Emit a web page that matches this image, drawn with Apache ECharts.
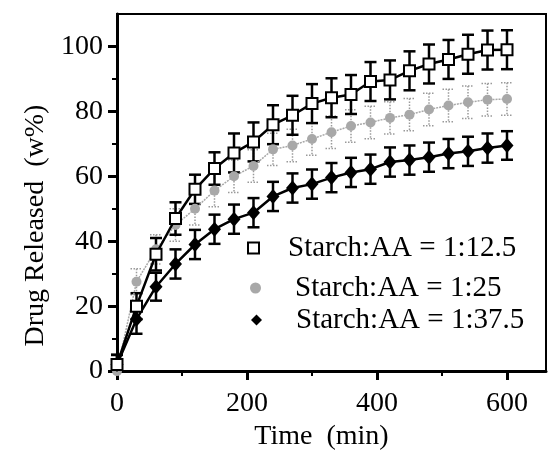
<!DOCTYPE html>
<html>
<head>
<meta charset="utf-8">
<script src="https://cdn.jsdelivr.net/npm/echarts@6/dist/echarts.min.js"></script>
<style>html,body{margin:0;padding:0;background:#fff}#c{width:549px;height:456px}</style>
</head>
<body>
<div id="c"></div>
<script>
// ---- data ----
var times = [0,30,60,90,120,150,180,210,240,270,300,330,360,390,420,450,480,510,540,570,600];
var s1 = [2,20,36,47,56,62.4,67.2,70.6,75.9,78.8,82.4,84.2,85.2,89.2,89.7,92.5,94.6,96,97.6,98.9,99];
var e1 = [3,4,5,5,4.5,5,6,6,6,6,6,6,6,6,6,6,6,6,6,6,6];
var s2 = [0,27.5,37.5,45,50,55.6,60,63.2,68.3,69.5,71.5,73.6,75.5,76.6,78,79,80.6,81.8,82.8,83.6,83.8];
var e2 = [2,4,4.5,5,5,5,5,5,5,5,5,5,5,5,5,5,5,5,5,5,5];
var s3 = [2,16,26,33,39,43.7,46.8,48.8,53.8,56.4,57.6,59.6,61.2,62.2,64.4,65,65.9,67,67.7,68.7,69.5];
var e3 = [3,4.5,4.3,4.5,4.5,4.5,4.5,4.5,4.5,4.5,4.5,4.5,4.5,4.5,4.5,4.5,4.5,4.5,4.5,4.5,4.4];
var names = ['Starch:AA = 1:12.5','Starch:AA = 1:25','Starch:AA = 1:37.5'];
var xMajor = [0,200,400,600];
var xMinor = [100,300,500];
var yMajor = [0,20,40,60,80,100];
var yMinor = [10,30,50,70,90];

var FONT = 'Liberation Serif';
function pairs(s){ return times.map(function(t,i){return [t,s[i]];}); }
function triples(s,e){ return times.map(function(t,i){return [t,s[i],e[i]];}); }
function errSeries(s,e,color,width,dashed){
  return {
    type:'custom', xAxisIndex:0, yAxisIndex:0, silent:true, z:3,
    data: triples(s,e),
    renderItem:function(params,api){
      var x=api.value(0), y=api.value(1), er=api.value(2);
      var hi=api.coord([x,y+er]), lo=api.coord([x,Math.max(0,y-er)]);
      var hw=6;
      var st={stroke:color,lineWidth:width,lineDash:dashed?[1.5,1.5]:null};
      return {type:'group',children:[
        {type:'line',shape:{x1:hi[0],y1:hi[1],x2:lo[0],y2:lo[1]},style:st},
        {type:'line',shape:{x1:hi[0]-hw,y1:hi[1],x2:hi[0]+hw,y2:hi[1]},style:st},
        {type:'line',shape:{x1:lo[0]-hw,y1:lo[1],x2:lo[0]+hw,y2:lo[1]},style:st}
      ]};
    }
  };
}
var chart = echarts.init(document.getElementById('c'), null, {renderer:'canvas'});
function legendAt(name, icon, left, cy, pad){
  return {
    data:[{name:name, icon:icon}], left:left, top:cy-15, padding:0,
    itemWidth:11, itemHeight:11, selectedMode:false,
    textStyle:{color:'#000', fontFamily:FONT, fontSize:29, lineHeight:30, padding:[0,0,0,pad]}
  };
}
chart.setOption({
  animation:false,
  backgroundColor:'#fff',
  grid:{left:117, top:14, right:3, bottom:80, show:true, borderColor:'#000', borderWidth:2, containLabel:false},
  legend:[
    legendAt(names[0],'emptyRect',247,248,24),
    legendAt(names[1],'circle',250,288,29),
    legendAt(names[2],'diamond',251,320,29)
  ],
  xAxis:[
    {type:'value', min:0, max:660, position:'bottom',
     axisLine:{show:true, onZero:false, lineStyle:{color:'#000', width:3}},
     axisTick:{show:true, customValues:xMajor, length:9, lineStyle:{color:'#000', width:3}},
     axisLabel:{customValues:xMajor, color:'#000', fontFamily:FONT, fontSize:28, margin:19},
     splitLine:{show:false},
     name:'Time  (min)', nameLocation:'middle', nameGap:50,
     nameTextStyle:{color:'#000', fontFamily:FONT, fontSize:28, padding:[0,20,0,0]}},
    {type:'value', min:0, max:660, position:'bottom',
     axisLine:{show:false, onZero:false},
     axisTick:{show:true, customValues:xMinor, length:5, lineStyle:{color:'#000', width:2}},
     axisLabel:{show:false}, splitLine:{show:false}}
  ],
  yAxis:[
    {type:'value', min:0, max:110, position:'left',
     axisLine:{show:true, onZero:false, lineStyle:{color:'#000', width:3}},
     axisTick:{show:true, customValues:yMajor, length:9, lineStyle:{color:'#000', width:3}},
     axisLabel:{customValues:yMajor, color:'#000', fontFamily:FONT, fontSize:28, margin:14},
     splitLine:{show:false},
     name:'Drug Released  (w%)', nameLocation:'middle', nameGap:64,
     nameTextStyle:{color:'#000', fontFamily:FONT, fontSize:28, padding:[0,66,0,0]}},
    {type:'value', min:0, max:110, position:'left',
     axisLine:{show:false, onZero:false},
     axisTick:{show:true, customValues:yMinor, length:5, lineStyle:{color:'#000', width:2}},
     axisLabel:{show:false}, splitLine:{show:false}}
  ],
  series:[
    errSeries(s2,e2,'#9a9a9a',1.5,true),
    {name:names[1], type:'line', data:pairs(s2), z:4,
     symbol:'circle', symbolSize:10, showAllSymbol:true,
     itemStyle:{color:'#a8a8a8'}, lineStyle:{color:'#a8a8a8', width:1.5, type:[2,1]}},
    errSeries(s3,e3,'#000',2.5,false),
    {name:names[2], type:'line', data:pairs(s3), z:5,
     symbol:'diamond', symbolSize:[13,15], showAllSymbol:true,
     itemStyle:{color:'#000'}, lineStyle:{color:'#000', width:2.5}},
    errSeries(s1,e1,'#000',2.5,false),
    {name:names[0], type:'line', data:pairs(s1), z:6,
     symbol:'emptyRect', symbolSize:11, showAllSymbol:true,
     itemStyle:{color:'#000', borderColor:'#000', borderWidth:2}, lineStyle:{color:'#000', width:2.5}}
  ]
});
</script>
</body>
</html>
